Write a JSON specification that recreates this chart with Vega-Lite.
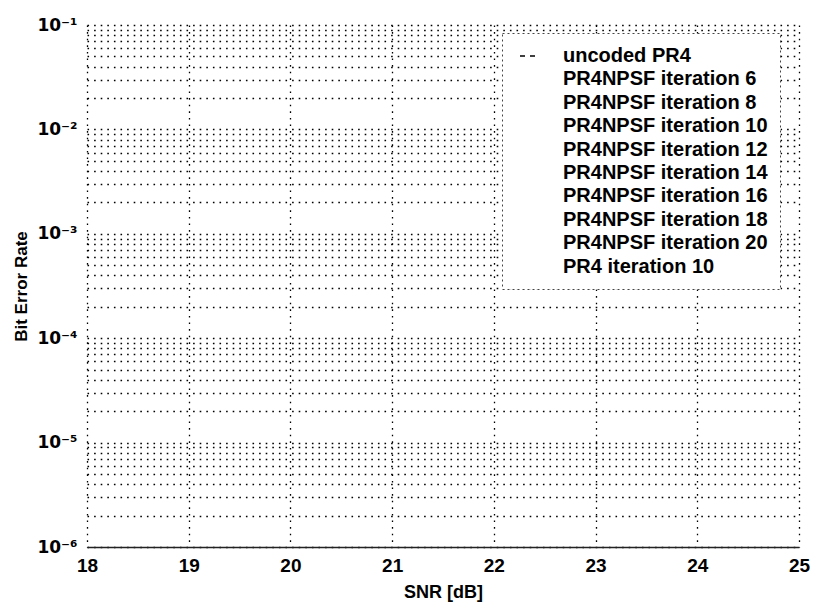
{
  "$schema": "https://vega.github.io/schema/vega-lite/v6.json",
  "width": 712,
  "height": 522,
  "autosize": "none",
  "padding": {"left": 87, "top": 25, "right": 15, "bottom": 58},
  "background": "white",
  "config": {
    "view": {"stroke": null},
    "font": "Liberation Sans",
    "legend": {"strokeDash": [2, 3], "strokeWidth": 1}
  },
  "data": {
    "values": [
      {"series": "uncoded PR4", "snr": null, "ber": null},
      {"series": "PR4NPSF iteration 6", "snr": null, "ber": null},
      {"series": "PR4NPSF iteration 8", "snr": null, "ber": null},
      {"series": "PR4NPSF iteration 10", "snr": null, "ber": null},
      {"series": "PR4NPSF iteration 12", "snr": null, "ber": null},
      {"series": "PR4NPSF iteration 14", "snr": null, "ber": null},
      {"series": "PR4NPSF iteration 16", "snr": null, "ber": null},
      {"series": "PR4NPSF iteration 18", "snr": null, "ber": null},
      {"series": "PR4NPSF iteration 20", "snr": null, "ber": null},
      {"series": "PR4 iteration 10", "snr": null, "ber": null}
    ]
  },
  "mark": {"type": "line", "strokeWidth": 1.2},
  "encoding": {
    "x": {
      "field": "snr",
      "type": "quantitative",
      "scale": {"domain": [18, 25], "nice": false, "zero": false},
      "axis": {
        "values": [18, 19, 20, 21, 22, 23, 24, 25],
        "format": "d",
        "grid": true,
        "gridDash": [1.6, 5],
        "gridColor": "#000000",
        "gridWidth": 1.3,
        "ticks": false,
        "domain": true,
        "domainColor": "#222222",
        "domainWidth": 1.5,
        "labelFont": "Liberation Sans",
        "labelFontSize": 19,
        "labelFontWeight": "bold",
        "labelColor": "black",
        "labelPadding": 9,
        "labelFlush": false,
        "labelOverlap": false,
        "title": "SNR [dB]",
        "titleFont": "Liberation Sans",
        "titleFontSize": 18,
        "titleFontWeight": "bold",
        "titleColor": "black",
        "titlePadding": 8
      }
    },
    "y": {
      "field": "ber",
      "type": "quantitative",
      "scale": {"type": "log", "domain": [1e-6, 0.1], "nice": false},
      "axis": {
        "values": [1e-6, 2e-6, 3e-6, 4e-6, 5e-6, 6e-6, 7e-6, 8e-6, 9e-6,
                   1e-5, 2e-5, 3e-5, 4e-5, 5e-5, 6e-5, 7e-5, 8e-5, 9e-5,
                   1e-4, 2e-4, 3e-4, 4e-4, 5e-4, 6e-4, 7e-4, 8e-4, 9e-4,
                   1e-3, 2e-3, 3e-3, 4e-3, 5e-3, 6e-3, 7e-3, 8e-3, 9e-3,
                   1e-2, 2e-2, 3e-2, 4e-2, 5e-2, 6e-2, 7e-2, 8e-2, 9e-2, 0.1],
        "labelExpr": "abs(log(datum.value)/LN10 - round(log(datum.value)/LN10)) < 0.01 ? '10' + ['⁰','⁻¹','⁻²','⁻³','⁻⁴','⁻⁵','⁻⁶'][-round(log(datum.value)/LN10)] : ''",
        "grid": true,
        "gridDash": [1.6, 5],
        "gridColor": "#000000",
        "gridWidth": 1.3,
        "ticks": false,
        "domain": false,
        "labelFont": "DejaVu Sans",
        "labelFontSize": 17,
        "labelFontWeight": "bold",
        "labelColor": "black",
        "labelPadding": 10,
        "labelOverlap": false,
        "labelFlush": false,
        "title": "Bit Error Rate",
        "titleFont": "Liberation Sans",
        "titleFontSize": 17,
        "titleFontWeight": "bold",
        "titleColor": "black",
        "titlePadding": 6
      }
    },
    "color": {
      "field": "series",
      "type": "nominal",
      "scale": {
        "domain": ["uncoded PR4", "PR4NPSF iteration 6", "PR4NPSF iteration 8", "PR4NPSF iteration 10", "PR4NPSF iteration 12", "PR4NPSF iteration 14", "PR4NPSF iteration 16", "PR4NPSF iteration 18", "PR4NPSF iteration 20", "PR4 iteration 10"],
        "range": ["black", "white", "white", "white", "white", "white", "white", "white", "white", "white"]
      },
      "legend": {
        "title": null,
        "orient": "none",
        "legendX": 415,
        "legendY": 8,
        "fillColor": "white",
        "strokeColor": "#444444",
        "padding": 12,
        "symbolType": "stroke",
        "symbolSize": 400,
        "symbolStrokeWidth": 1.3,
        "labelFont": "Liberation Sans",
        "labelFontSize": 20,
        "labelFontWeight": "bold",
        "labelColor": "black",
        "labelOffset": 27,
        "labelLimit": 400,
        "rowPadding": 2.4
      }
    },
    "strokeDash": {
      "field": "series",
      "type": "nominal",
      "scale": {
        "domain": ["uncoded PR4", "PR4NPSF iteration 6", "PR4NPSF iteration 8", "PR4NPSF iteration 10", "PR4NPSF iteration 12", "PR4NPSF iteration 14", "PR4NPSF iteration 16", "PR4NPSF iteration 18", "PR4NPSF iteration 20", "PR4 iteration 10"],
        "range": [[0, 5, 5, 5, 5, 5], [1, 0], [1, 0], [1, 0], [1, 0], [1, 0], [1, 0], [1, 0], [1, 0], [1, 0]]
      }
    }
  }
}
